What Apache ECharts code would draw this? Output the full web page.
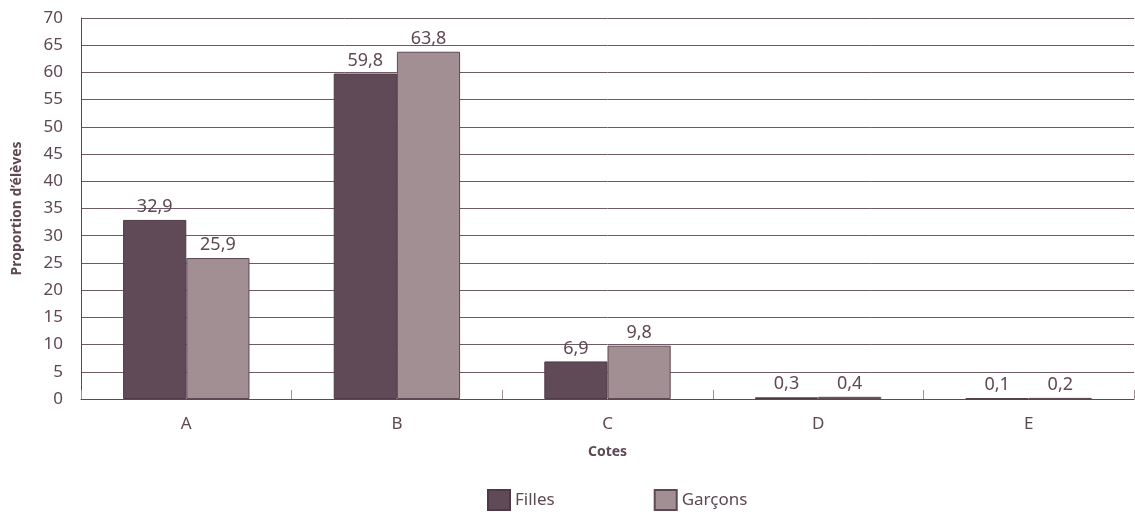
<!DOCTYPE html>
<html>
<head>
<meta charset="utf-8">
<script src="https://cdn.jsdelivr.net/npm/echarts@6/dist/echarts.min.js"></script>
<style>
html,body{margin:0;padding:0;background:#fff;}
#chart{width:1135px;height:512px;}
</style>
</head>
<body>
<div id="chart"></div>
<script>
const categories = ['A', 'B', 'C', 'D', 'E'];
const filles = [32.9, 59.8, 6.9, 0.3, 0.1];
const garcons = [25.9, 63.8, 9.8, 0.4, 0.2];
const seriesNames = ['Filles', 'Garçons'];

const textColor = '#5e4854';
const font = 'Noto Sans';
const chart = echarts.init(document.getElementById('chart'));
const labelOpt = {
  show: true, position: 'top', distance: 4,
  color: textColor, fontFamily: font, fontSize: 18,
  formatter: p => String(p.value).replace('.', ',')
};
chart.setOption({
  animation: false,
  textStyle: { fontFamily: font },
  grid: { left: 81, right: 1, top: 18, bottom: 113 },
  legend: {
    left: 482, top: 484,
    itemWidth: 22, itemHeight: 20, itemGap: 99,
    icon: 'rect',
    textStyle: { color: textColor, fontFamily: font, fontSize: 17 },
    data: seriesNames
  },
  xAxis: {
    type: 'category', data: categories,
    name: 'Cotes', nameLocation: 'middle', nameGap: 46,
    nameTextStyle: { color: textColor, fontFamily: font, fontSize: 14, fontWeight: 'bold' },
    axisLine: { lineStyle: { color: '#5e4854', width: 1 } },
    axisTick: { show: true, inside: true, length: 9, lineStyle: { color: '#a28f94' } },
    axisLabel: { color: textColor, fontFamily: font, fontSize: 17, margin: 17 }
  },
  yAxis: {
    type: 'value', min: 0, max: 70, interval: 5,
    name: 'Proportion d’élèves', nameLocation: 'middle', nameGap: 57, nameRotate: 90,
    nameTextStyle: { color: textColor, fontFamily: font, fontSize: 14, fontWeight: 'bold' },
    axisLine: { show: true, lineStyle: { color: '#5e4854', width: 1 } },
    axisTick: { show: false },
    axisLabel: { color: textColor, fontFamily: font, fontSize: 17, margin: 18 },
    splitLine: { lineStyle: { color: '#6e5a65', width: 1 } }
  },
  series: [
    {
      name: seriesNames[0], type: 'bar', data: filles,
      barGap: '0%', barCategoryGap: '40%',
      itemStyle: { color: '#614a57', borderColor: '#4e3a45', borderWidth: 1 },
      label: labelOpt
    },
    {
      name: seriesNames[1], type: 'bar', data: garcons,
      itemStyle: { color: '#a28f94', borderColor: '#5e4854', borderWidth: 1 },
      label: labelOpt
    }
  ]
});
</script>
</body>
</html>
